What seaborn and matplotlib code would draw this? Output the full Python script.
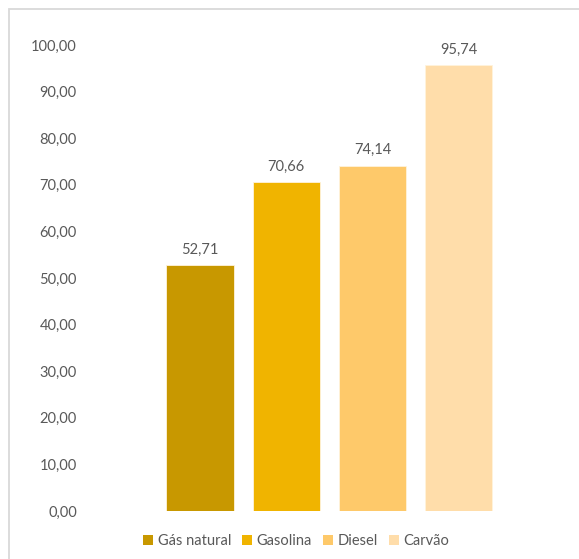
import matplotlib
matplotlib.use("Agg")
import matplotlib.pyplot as plt
import matplotlib.patches as mpatches
import seaborn as sns
import pandas as pd

categories = ["Gás natural", "Gasolina", "Diesel", "Carvão"]
values = [52.71, 70.66, 74.14, 95.74]
colors = ["#C89800", "#F0B400", "#FEC96A", "#FFDDAA"]
yticks = [0, 10, 20, 30, 40, 50, 60, 70, 80, 90, 100]

sns.set_theme(style="white")
plt.rcParams["font.family"] = ["Lato", "DejaVu Sans"]

text_color = "#595959"

fig = plt.figure(figsize=(5.79, 5.59), dpi=100)
ax = fig.add_axes([90 / 579, 48 / 559, 470 / 579, 466 / 559])

df = pd.DataFrame({"cat": categories, "val": values})
sns.barplot(data=df, x="cat", y="val", hue="cat", palette=colors, saturation=1,
            width=0.78, legend=False, ax=ax, edgecolor="#FFF3DC", linewidth=0.6)

ax.set_xlim(-1.275, 4.176)
ax.set_ylim(0, 100)
ax.set_yticks(yticks)
ax.set_yticklabels([f"{t:.2f}".replace(".", ",") for t in yticks],
                   color=text_color, fontsize=10.5)
ax.tick_params(axis="y", length=0, pad=9.5)
ax.set_xticks([])
ax.set_xlabel("")
ax.set_ylabel("")
for s in ax.spines.values():
    s.set_visible(False)

for i, v in enumerate(values):
    ax.annotate(f"{v:.2f}".replace(".", ","), (i, v), xytext=(0, 6),
                textcoords="offset points", ha="center", va="bottom",
                color=text_color, fontsize=10.5, clip_on=False)

handles = [mpatches.Patch(facecolor=c, edgecolor="none", label=l)
           for c, l in zip(colors, categories)]
fig.legend(handles=handles, loc="center", bbox_to_anchor=(296 / 579, 1 - 541 / 559),
           ncol=4, frameon=False, fontsize=10.5, labelcolor=text_color,
           handlelength=0.7, handleheight=0.7, handletextpad=0.3, columnspacing=0.75)

border = mpatches.Rectangle((8.5 / 579, -0.1), 2, 1 - 9.5 / 559 + 0.1,
                            transform=fig.transFigure, fill=False,
                            edgecolor="#D9D9D9", linewidth=1.3, clip_on=False)
fig.patches.append(border)

fig.savefig("out.png", dpi=100)
